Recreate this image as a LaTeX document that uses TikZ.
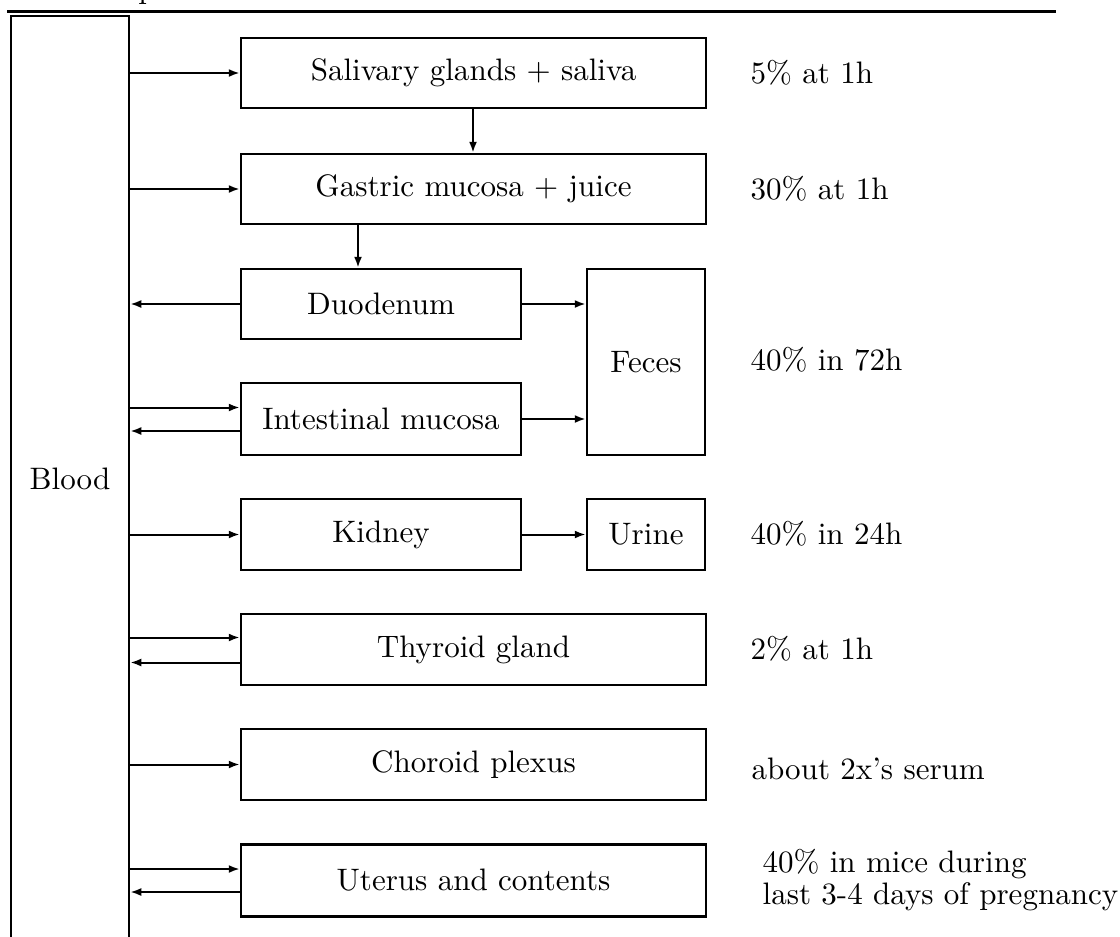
\documentclass[tikz,border=0pt]{standalone}
\usetikzlibrary{arrows.meta}
\newcommand\pxu{0.3222pt}
\begin{document}
\begin{tikzpicture}[x=0.3222pt,y=-0.3222pt,
  box/.style={draw,line width=2.5*\pxu,inner sep=0pt},
  lab/.style={anchor=west,inner sep=0pt,font=\fontsize{10}{10.6}\selectfont,align=left},
  arr/.style={line width=2*\pxu,-{Latex[length=11*\pxu,width=8*\pxu]}}]
\useasboundingbox (0,0) rectangle (1120,936);
% top rule and cut-off caption letter
\draw[line width=3*\pxu] (7,11) -- (1056,11);
\node[anchor=base,inner sep=0pt] (cap) at (147,-2) {p};
% blood
\node[box,minimum width=118*\pxu,minimum height=926*\pxu] (blood) at (70,479) {Blood};
% organ boxes
\node[box,minimum width=465*\pxu,minimum height=70*\pxu] (sal) at (473.5,73) {Salivary glands + saliva};
\node[box,minimum width=465*\pxu,minimum height=70*\pxu] (gas) at (473.5,189) {Gastric mucosa + juice};
\node[box,minimum width=280*\pxu,minimum height=70*\pxu] (duo) at (381,304) {Duodenum};
\node[box,minimum width=280*\pxu,minimum height=72*\pxu] (int) at (381,419) {Intestinal mucosa};
\node[box,minimum width=118*\pxu,minimum height=186*\pxu] (fec) at (646,362) {Feces};
\node[box,minimum width=280*\pxu,minimum height=71*\pxu] (kid) at (381,534.5) {Kidney};
\node[box,minimum width=118*\pxu,minimum height=71*\pxu] (uri) at (646,534.5) {Urine};
\node[box,minimum width=465*\pxu,minimum height=71*\pxu] (thy) at (473.5,649.5) {Thyroid gland};
\node[box,minimum width=465*\pxu,minimum height=71*\pxu] (cho) at (473.5,764.5) {Choroid plexus};
\node[box,minimum width=465*\pxu,minimum height=72*\pxu] (ute) at (473.5,880.5) {Uterus and contents};
% right labels
\node[lab] (l1) at (750,73) {5\% at 1h};
\node[lab] (l2) at (750,189) {30\% at 1h};
\node[lab] (l3) at (750,360) {40\% in 72h};
\node[lab] (l4) at (750,534) {40\% in 24h};
\node[lab] (l5) at (750,649) {2\% at 1h};
\node[lab] (l6) at (751,769) {about 2x's serum};
\node[lab] (l7) at (762,880) {40\% in mice during\\last 3-4 days of pregnancy};
% helper coordinates
\coordinate (i1) at ([yshift=11.5*\pxu]int.west);
\coordinate (i2) at ([yshift=-12*\pxu]int.west);
\coordinate (t1) at ([yshift=12*\pxu]thy.west);
\coordinate (t2) at ([yshift=-13*\pxu]thy.west);
\coordinate (u1) at ([yshift=11.5*\pxu]ute.west);
\coordinate (u2) at ([yshift=-11.5*\pxu]ute.west);
\coordinate (sd) at (473,0);
\coordinate (gd) at (358,0);
% connectors from blood
\draw[arr] (blood.east |- sal.west) -- (sal.west);
\draw[arr] (blood.east |- gas.west) -- (gas.west);
\draw[arr] (duo.west) -- (blood.east |- duo.west);
\draw[arr] (blood.east |- i1) -- (i1);
\draw[arr] (i2) -- (blood.east |- i2);
\draw[arr] (blood.east |- kid.west) -- (kid.west);
\draw[arr] (blood.east |- t1) -- (t1);
\draw[arr] (t2) -- (blood.east |- t2);
\draw[arr] (blood.east |- cho.west) -- (cho.west);
\draw[arr] (blood.east |- u1) -- (u1);
\draw[arr] (u2) -- (blood.east |- u2);
% internal flow
\draw[arr] (sd |- sal.south) -- (sd |- gas.north);
\draw[arr] (gd |- gas.south) -- (gd |- duo.north);
\draw[arr] (duo.east) -- (fec.west |- duo.east);
\draw[arr] (int.east) -- (fec.west |- int.east);
\draw[arr] (kid.east) -- (uri.west);
\end{tikzpicture}
\end{document}
